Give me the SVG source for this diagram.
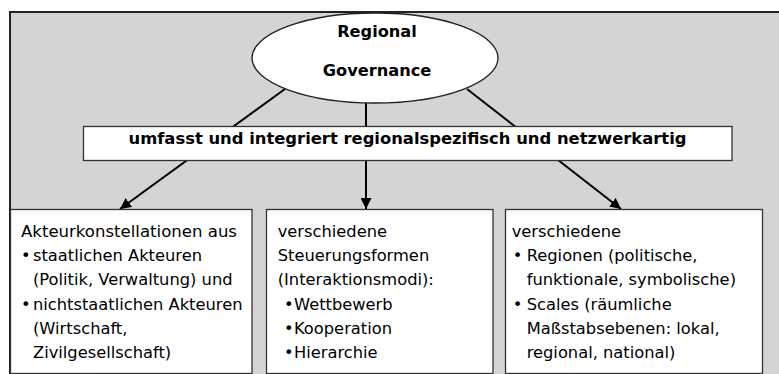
<svg xmlns="http://www.w3.org/2000/svg" width="779" height="374" viewBox="0 0 779 374">
  <style>
    .frame { fill: #d4d4d4; stroke: #222; stroke-width: 2; }
    .box { fill: #fff; stroke: #333; stroke-width: 1.3; }
    .edge { stroke: #000; stroke-width: 2; fill: none; }
    .title { font-family: "DejaVu Sans", Verdana, sans-serif; font-weight: bold; font-size: 16.2px; fill: #000; text-anchor: middle; }
    .body { font-family: "DejaVu Sans", Verdana, sans-serif; font-size: 16.3px; fill: #000; }
  </style>
  <defs>
    <marker id="arrow" viewBox="0 0 10 10" refX="10" refY="5" markerWidth="5.5" markerHeight="5.5" orient="auto" markerUnits="strokeWidth">
      <path d="M0,0 L10,5 L0,10 Z" fill="#000"/>
    </marker>
  </defs>

  <!-- grey background panel -->
  <rect class="frame" x="10" y="12" width="790" height="380"/>

  <!-- connectors -->
  <g id="connectors">
    <line class="edge" x1="285" y1="89" x2="120" y2="209" marker-end="url(#arrow)"/>
    <line class="edge" x1="366" y1="103" x2="366" y2="209" marker-end="url(#arrow)"/>
    <line class="edge" x1="467" y1="89" x2="621" y2="209" marker-end="url(#arrow)"/>
  </g>

  <g id="regional-governance">
    <ellipse cx="375" cy="58" rx="123" ry="45" fill="#fff" stroke="#222" stroke-width="1.3"/>
    <text class="title" x="377" y="37">Regional</text>
    <text class="title" x="377" y="76">Governance</text>
  </g>

  <g id="integration">
    <rect class="box" x="83.5" y="126.5" width="648.5" height="34"/>
    <text class="title" x="407.5" y="144" textLength="558" lengthAdjust="spacingAndGlyphs">umfasst und integriert regionalspezifisch und netzwerkartig</text>
  </g>

  <g id="akteure">
    <rect class="box" x="10.5" y="209.5" width="241.5" height="164"/>
    <text class="body">
      <tspan x="21" y="236.7" textLength="216" lengthAdjust="spacingAndGlyphs">Akteurkonstellationen aus</tspan>
      <tspan x="21" y="261">•</tspan><tspan x="33" y="261">staatlichen Akteuren</tspan>
      <tspan x="33" y="285.3">(Politik, Verwaltung) und</tspan>
      <tspan x="21" y="309.6">•</tspan><tspan x="33" y="309.6">nichtstaatlichen Akteuren</tspan>
      <tspan x="33" y="334">(Wirtschaft,</tspan>
      <tspan x="33" y="358.3">Zivilgesellschaft)</tspan>
    </text>
  </g>

  <g id="steuerung">
    <rect class="box" x="266.5" y="209.5" width="226.5" height="164"/>
    <text class="body">
      <tspan x="277.7" y="236.7">verschiedene</tspan>
      <tspan x="277.7" y="261">Steuerungsformen</tspan>
      <tspan x="277.7" y="285.3">(Interaktionsmodi):</tspan>
      <tspan x="284" y="309.6">•</tspan><tspan x="294" y="309.6">Wettbewerb</tspan>
      <tspan x="284" y="334">•</tspan><tspan x="294" y="334">Kooperation</tspan>
      <tspan x="284" y="358.3">•</tspan><tspan x="294" y="358.3">Hierarchie</tspan>
    </text>
  </g>

  <g id="regionen">
    <rect class="box" x="505.5" y="209.5" width="257" height="164"/>
    <text class="body">
      <tspan x="511.7" y="236.7">verschiedene</tspan>
      <tspan x="512.7" y="261">•</tspan><tspan x="526.7" y="261">Regionen (politische,</tspan>
      <tspan x="526.7" y="285.3">funktionale, symbolische)</tspan>
      <tspan x="512.7" y="309.6">•</tspan><tspan x="526.7" y="309.6">Scales (räumliche</tspan>
      <tspan x="526.7" y="334">Maßstabsebenen: lokal,</tspan>
      <tspan x="526.7" y="358.3">regional, national)</tspan>
    </text>
  </g>
</svg>
